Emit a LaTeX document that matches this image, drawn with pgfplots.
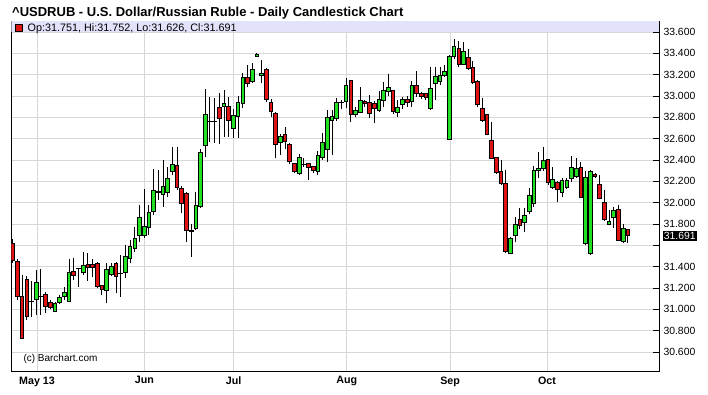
\documentclass[border=0pt]{standalone}
\usepackage{pgfplots}
\pgfplotsset{compat=1.18}
\usepackage{pgfplotstable}
\usepackage{fontspec}
\setmainfont{Liberation Sans}
\definecolor{upc}{RGB}{34,224,34}
\definecolor{dnc}{RGB}{222,20,20}
\definecolor{bandc}{RGB}{226,226,250}
\definecolor{gridc}{RGB}{215,215,215}

\pgfplotstableread{
i o h l c
1 31.619 31.659 31.437 31.456
2 31.450 31.469 31.088 31.119
3 31.119 31.322 30.720 30.728
4 31.282 31.313 30.900 30.931
5 31.070 31.266 30.930 31.075
6 31.094 31.369 30.947 31.253
7 31.117 31.375 30.947 31.121
8 31.141 31.165 30.963 31.031
9 31.066 31.087 31.000 31.019
10 30.981 31.072 30.972 31.056
11 31.069 31.134 31.050 31.113
12 31.119 31.212 31.088 31.163
13 31.078 31.472 31.070 31.347
14 31.353 31.478 31.275 31.322
15 31.379 31.390 31.212 31.383
16 31.347 31.540 31.322 31.409
17 31.422 31.525 31.266 31.394
18 31.420 31.470 31.300 31.392
19 31.431 31.447 31.197 31.219
20 31.225 31.230 31.134 31.188
21 31.178 31.431 31.056 31.375
22 31.328 31.430 31.310 31.400
23 31.431 31.440 31.150 31.313
24 31.336 31.509 31.119 31.340
25 31.344 31.603 31.291 31.494
26 31.478 31.650 31.431 31.587
27 31.572 31.775 31.540 31.666
28 31.697 31.978 31.634 31.863
29 31.697 32.125 31.666 31.775
30 31.769 31.978 31.700 31.910
31 31.916 32.313 31.880 32.112
32 32.095 32.306 32.025 32.105
33 32.081 32.400 31.962 32.150
34 32.097 32.330 32.050 32.228
35 32.291 32.525 32.260 32.359
36 32.353 32.525 32.120 32.144
37 32.134 32.160 31.906 31.994
38 32.088 32.100 31.634 31.744
39 31.730 31.800 31.494 31.740
40 31.760 32.100 31.740 31.978
41 31.962 32.500 31.950 32.469
42 32.538 33.063 32.431 32.831
43 32.757 32.994 32.572 32.761
44 32.761 32.980 32.560 32.757
45 32.894 33.025 32.547 32.791
46 32.900 33.056 32.619 32.931
47 32.906 32.990 32.619 32.766
48 32.697 32.880 32.610 32.813
49 32.812 33.000 32.603 32.937
50 32.931 33.213 32.884 33.175
51 33.175 33.290 33.080 33.119
52 33.134 33.306 33.119 33.244
53 33.370 33.406 33.365 33.390
54 33.190 33.338 33.119 33.210
55 33.250 33.260 32.940 32.969
56 32.937 32.975 32.800 32.853
57 32.838 32.850 32.416 32.547
58 32.566 32.640 32.450 32.619
59 32.638 32.712 32.500 32.572
60 32.547 32.560 32.363 32.384
61 32.363 32.370 32.281 32.297
62 32.275 32.460 32.259 32.425
63 32.354 32.420 32.330 32.358
64 32.363 32.370 32.212 32.328
65 32.338 32.345 32.280 32.306
66 32.297 32.480 32.259 32.447
67 32.425 32.650 32.400 32.566
68 32.500 32.869 32.380 32.800
69 32.775 32.869 32.450 32.806
70 32.790 32.980 32.770 32.944
71 32.938 32.960 32.880 32.942
72 32.950 33.166 32.884 33.100
73 33.144 33.150 32.759 32.831
74 32.831 32.900 32.800 32.862
75 32.847 33.087 32.838 32.956
76 32.947 32.960 32.900 32.931
77 32.941 33.009 32.791 32.838
78 32.931 32.950 32.744 32.884
79 32.869 33.050 32.850 32.972
80 32.956 33.134 32.900 33.050
81 33.041 33.206 33.000 33.078
82 33.050 33.060 32.830 32.853
83 32.847 32.960 32.806 32.894
84 32.916 32.990 32.880 32.963
85 32.969 33.000 32.900 32.938
86 32.947 33.144 32.900 33.097
87 33.094 33.234 32.990 33.025
88 33.025 33.040 32.970 32.994
89 33.025 33.030 32.960 32.988
90 32.884 33.275 32.870 33.072
91 33.119 33.269 32.960 33.181
92 33.133 33.270 33.100 33.196
93 33.196 33.290 33.180 33.234
94 32.594 33.380 32.594 33.369
95 33.369 33.534 33.350 33.463
96 33.447 33.516 33.270 33.300
97 33.300 33.503 33.290 33.416
98 33.363 33.440 33.240 33.259
99 33.269 33.330 33.110 33.128
100 33.134 33.150 32.900 32.922
101 32.884 32.985 32.760 32.775
102 32.828 32.830 32.630 32.641
103 32.581 32.753 32.410 32.416
104 32.422 32.430 32.270 32.284
105 32.291 32.400 32.170 32.181
106 32.181 32.306 31.525 31.541
107 31.525 31.680 31.516 31.666
108 31.697 31.869 31.628 31.797
109 31.847 31.953 31.750 31.784
110 31.816 31.950 31.728 31.884
111 31.916 32.141 31.890 32.072
112 31.991 32.340 31.960 32.306
113 32.305 32.478 32.230 32.322
114 32.322 32.525 32.300 32.394
115 32.406 32.410 32.170 32.191
116 32.144 32.331 32.130 32.219
117 32.191 32.200 32.009 32.125
118 32.097 32.230 32.050 32.206
119 32.144 32.230 32.130 32.206
120 32.228 32.438 32.190 32.331
121 32.244 32.416 32.230 32.322
122 32.331 32.384 32.040 32.050
123 31.619 32.300 31.600 32.238
124 31.525 32.306 31.510 32.291
125 32.269 32.280 32.230 32.250
126 32.175 32.259 32.030 32.041
127 32.000 32.119 31.830 31.844
128 31.800 31.931 31.790 31.822
129 31.863 31.960 31.760 31.931
130 31.938 31.978 31.640 31.650
131 31.634 31.800 31.620 31.759
132 31.751 31.752 31.626 31.691
}\candles

\begin{document}
\begin{tikzpicture}
\path[use as bounding box] (0,0) rectangle (708pt,394pt);
\begin{axis}[
  at={(11.3pt,23pt)}, anchor=south west,
  scale only axis, width=648pt, height=349.7pt,
  xmin=0.7, xmax=138.7, ymin=30.422, ymax=33.700,
  axis line style={black, line width=0.9pt},
  grid=major, grid style={gridc, line width=0.9pt},
  xtick={6.18,29.03,48.05,72.14,94.14,114.8},
  xticklabels={May 13,Jun,Jul,Aug,Sep,Oct},
  xtick style={draw=none},
  xticklabel style={font=\fontsize{10.7}{12}\selectfont\bfseries, yshift=-2pt},
  ytick={30.6,30.8,31.0,31.2,31.4,31.6,31.8,32.0,32.2,32.4,32.6,32.8,33.0,33.2,33.4,33.6},
  yticklabels={30.600,30.800,31.000,31.200,31.400,{},31.800,32.000,32.200,32.400,32.600,32.800,33.000,33.200,33.400,33.600},
  ytick pos=right, yticklabel pos=right,
  tick align=inside, major tick length=6pt,
  ytick style={black, line width=0.9pt},
  yticklabel style={font=\fontsize{10.4}{12}\selectfont, anchor=west, inner sep=0pt, xshift=4pt},
]
\addplot[fill=bandc, draw=none]
  coordinates {(0.7,33.6) (138.7,33.6) (138.7,33.71) (0.7,33.71)} --cycle;
\pgfplotstablegetrowsof{\candles}
\pgfmathtruncatemacro{\lastrow}{\pgfplotsretval-1}
\pgfplotsinvokeforeach{0,...,\lastrow}{
  \pgfplotstablegetelem{#1}{i}\of\candles \edef\vi{\pgfplotsretval}
  \pgfplotstablegetelem{#1}{o}\of\candles \edef\vo{\pgfplotsretval}
  \pgfplotstablegetelem{#1}{h}\of\candles \edef\vh{\pgfplotsretval}
  \pgfplotstablegetelem{#1}{l}\of\candles \edef\vl{\pgfplotsretval}
  \pgfplotstablegetelem{#1}{c}\of\candles \edef\vc{\pgfplotsretval}
  \pgfmathsetmacro\xl{\vi-0.39}
  \pgfmathsetmacro\xr{\vi+0.39}
  \pgfmathtruncatemacro\isup{\vc>\vo}
  \ifnum\isup=1 \def\cc{upc}\else\def\cc{dnc}\fi
  \edef\tmp{%
    \noexpand\addplot[black, line width=0.9pt] coordinates {(\vi,\vl) (\vi,\vh)};
    \noexpand\addplot[fill=\cc, draw=black, line width=0.9pt, line join=miter]
      coordinates {(\xl,\vo) (\xr,\vo) (\xr,\vc) (\xl,\vc)} --cycle;}
  \tmp
}
\end{axis}
% title
\node[anchor=base west, inner sep=0pt, font=\fontsize{13}{15}\selectfont\bfseries]
  at (12pt,377.5pt) {\textasciicircum USDRUB - U.S. Dollar/Russian Ruble - Daily Candlestick Chart};
% legend in band
\filldraw[fill=dnc, draw=black, line width=0.6pt] (15pt,362.5pt) rectangle (22pt,369.5pt);
\node[anchor=base west, inner sep=0pt, font=\fontsize{10.8}{12}\selectfont]
  at (27.5pt,362.3pt) {Op:31.751, Hi:31.752, Lo:31.626, Cl:31.691};
% copyright
\node[anchor=base west, inner sep=0pt, font=\fontsize{10}{12}\selectfont]
  at (23.3pt,33pt) {(c) Barchart.com};
% last price box
\node[anchor=west, fill=black, text=white, inner xsep=1.2pt, inner ysep=0pt,
  minimum height=9.8pt, font=\fontsize{10.4}{12}\selectfont]
  at (662.5pt,158.2pt) {31.691};
\end{tikzpicture}
\end{document}
